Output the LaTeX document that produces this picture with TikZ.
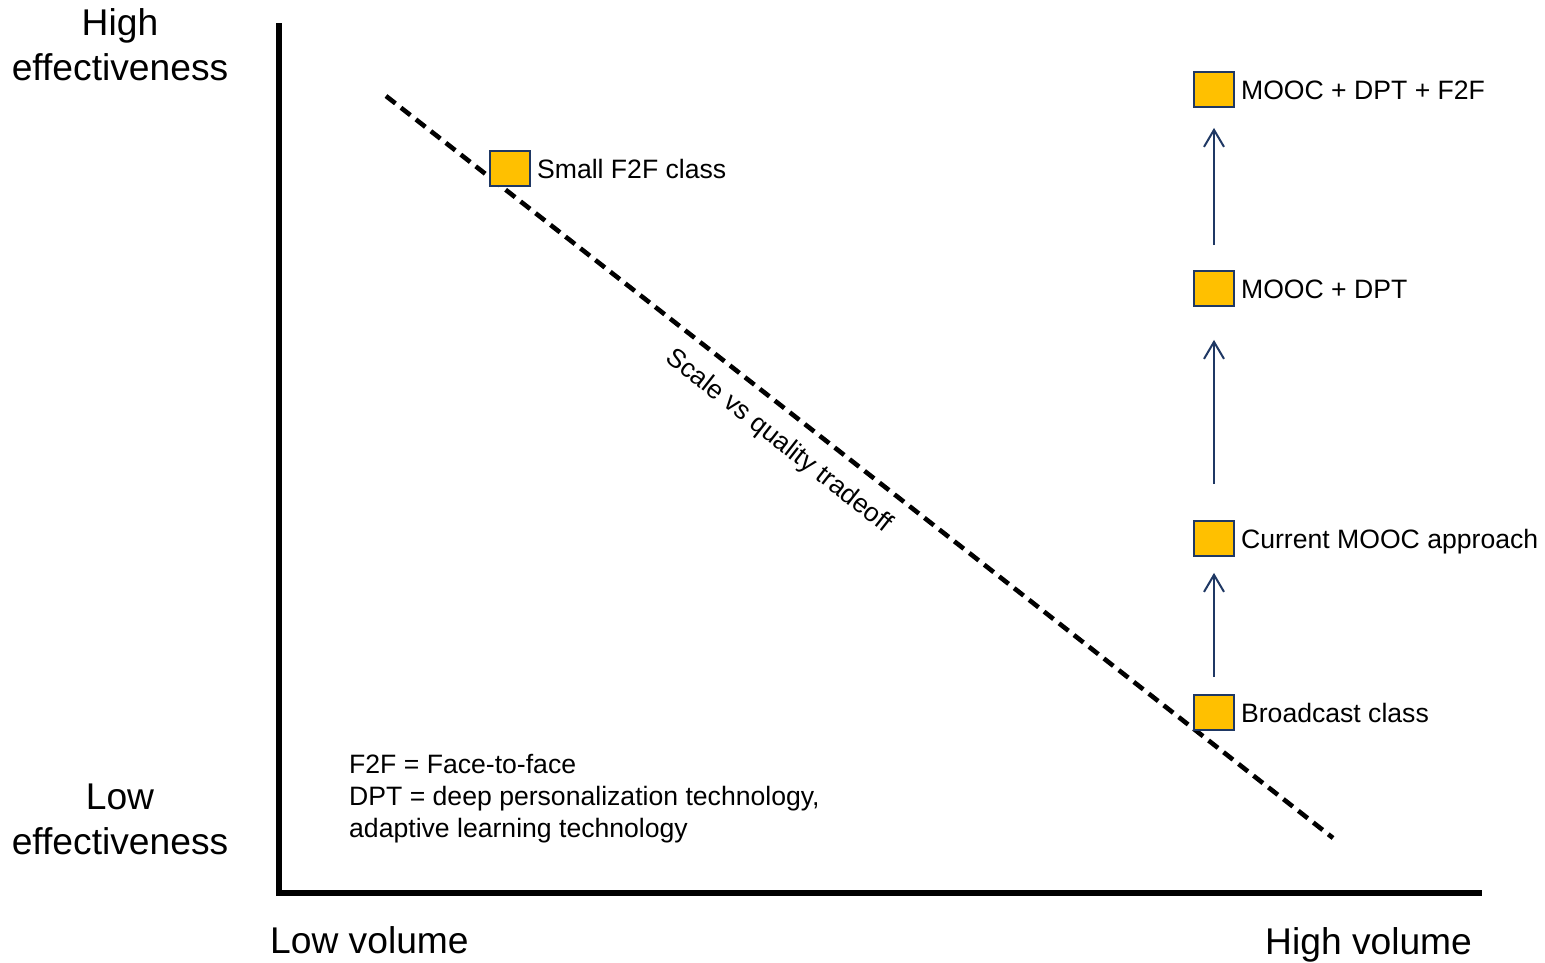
\documentclass[tikz,border=0pt]{standalone}
\usepackage{fontspec}
\setmainfont{Liberation Sans}
\usetikzlibrary{arrows.meta,positioning}
\definecolor{navy}{HTML}{1F3864}
\definecolor{amber}{HTML}{FFC000}

\begin{document}
\begin{tikzpicture}[x=1pt,y=-1pt,
  box/.style={draw=navy, line width=1.8pt, fill=amber,
    minimum width=40pt, minimum height=35pt, inner sep=0pt},
  lbl/.style={font=\fontsize{26.6}{31.7}\selectfont, inner sep=0pt,
    text height=19pt, text depth=0pt},
  axislbl/.style={font=\fontsize{37.2}{45}\selectfont, inner sep=0pt, align=center},
  axisend/.style={font=\fontsize{37.2}{45}\selectfont, inner sep=0pt, anchor=base west},
  note/.style={font=\fontsize{26.6}{32}\selectfont, inner sep=0pt, align=left, anchor=north west},
  uparrow/.style={draw=navy, line width=2pt, -{Straight Barb[length=17pt,width=20pt]}},
  axisline/.style={line width=5.5pt, line join=miter, line cap=rect},
  trade/.style={line width=4.6pt, dash pattern=on 12pt off 7pt},
]
\useasboundingbox (0,0) rectangle (1545,962);

% axes
\coordinate (ytop) at (279,26);
\coordinate (origin) at (279,893);
\coordinate (xend) at (1479,893);
\draw[axisline] (ytop) -- (origin) -- (xend);

% axis labels
\node[axislbl] (hiEff) at (120,44.75) {High\\effectiveness};
\node[axislbl] (loEff) at (120,819.75) {Low\\effectiveness};
\node[axisend] (loVol) at (270,953) {Low volume};
\node[axisend] (hiVol) at (1265,954) {High volume};

% scale vs quality tradeoff line
\coordinate (ts) at (386,96);
\coordinate (te) at (1333,838);
\draw[trade] (ts) -- (te)
  node[pos=0.434, sloped, below=15pt, inner sep=0pt,
       font=\fontsize{26.4}{30}\selectfont] (tradeLbl) {Scale vs quality tradeoff};

% approaches
\node[box] (small) at (510,168.5) {};
\node[box] (full)  at (1214,89.5) {};
\node[box] (dpt)   at (1214,288.5) {};
\node[box] (mooc)  at (1214,538.5) {};
\node[box] (bcast) at (1214,712.5) {};

\node[lbl, right=6pt of small] (smallLbl) {Small F2F class};
\node[lbl, right=6pt of full]  (fullLbl)  {MOOC + DPT + F2F};
\node[lbl, right=6pt of dpt]   (dptLbl)   {MOOC + DPT};
\node[lbl, right=6pt of mooc]  (moocLbl)  {Current MOOC approach};
\node[lbl, right=6pt of bcast] (bcastLbl) {Broadcast class};

% progression
\draw[uparrow, shorten <=17pt, shorten >=16pt] (bcast.north) -- (mooc.south);
\draw[uparrow, shorten <=36pt, shorten >=33pt] (mooc.north) -- (dpt.south);
\draw[uparrow, shorten <=25pt, shorten >=20pt] (dpt.north) -- (full.south);

% abbreviations
\node[note] (abbr) at (349,754) {F2F = Face-to-face\\DPT = deep personalization technology,\\adaptive learning technology};
\end{tikzpicture}
\end{document}
